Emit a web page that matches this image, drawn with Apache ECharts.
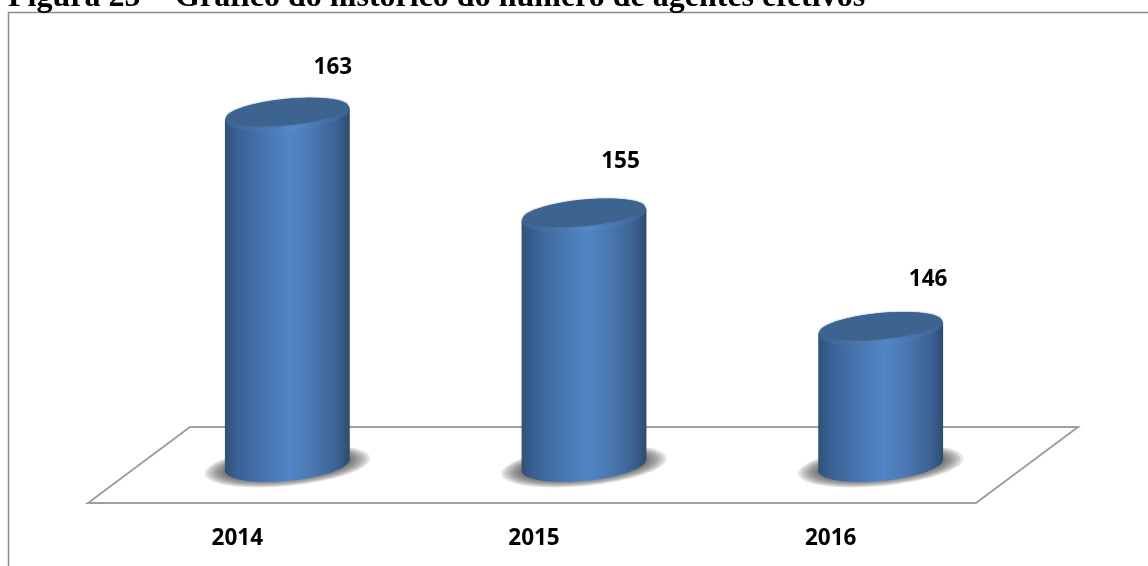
<!DOCTYPE html>
<html><head><meta charset="utf-8">
<style>html,body{margin:0;padding:0;background:#fff}#c{width:1148px;height:566px}</style>
<script src="https://cdn.jsdelivr.net/npm/echarts@6/dist/echarts.min.js"></script>
</head><body><div id="c"></div>
<script>
const categories = ['2014', '2015', '2016'];
const values = [163, 155, 146];
const titleText = 'Figura 25 –\u200A Gráfico do histórico do número de agentes efetivos';
const labelNudge = [[45.5, -47], [36.5, -53.5], [47.5, -49.5]];

const AXIS_MIN = 135.2, AXIS_MAX = 172.1;
const chart = echarts.init(document.getElementById('c'));
const A = 62.7, B = 16, TILT = 5.5 * Math.PI / 180;
const cosT = Math.cos(TILT), sinT = Math.sin(TILT);
function ell(cx, cy, a, b, t0, t1) {
  const pts = [], n = 64;
  for (let i = 0; i <= n; i++) {
    const t = t0 + (t1 - t0) * i / n;
    const x = a * Math.cos(t), y = b * Math.sin(t);
    pts.push([cx + x * cosT + y * sinT, cy - x * sinT + y * cosT]);
  }
  return pts;
}
const bodyFill = new echarts.graphic.LinearGradient(0, 0, 1, 0, [
  {offset: 0, color: '#2f5178'}, {offset: 0.1, color: '#3a6194'}, {offset: 0.3, color: '#4674ad'},
  {offset: 0.52, color: '#5285c8'}, {offset: 0.72, color: '#4976ae'}, {offset: 0.9, color: '#3b6292'},
  {offset: 1, color: '#2d4b70'}]);
const rimFill = new echarts.graphic.LinearGradient(0, 0, 1, 0, [
  {offset: 0, color: '#3a6090'}, {offset: 0.55, color: '#5588c8'}, {offset: 1, color: '#3a6090'}]);

function renderBar(params, api) {
  const i = api.value(0), v = api.value(1);
  const top = api.coord([i, v]);
  const base = api.coord([i, AXIS_MIN]);
  const cx = top[0], ty = top[1], by = base[1];
  const tR = Math.atan2(B * sinT, A * cosT);
  const tipR = ell(cx, ty, A, B, tR, tR)[0];
  const tipL = ell(cx, ty, A, B, tR + Math.PI, tR + Math.PI)[0];
  const body = [tipL, tipR].concat(ell(cx, by, A, B, tR, tR + Math.PI));
  const nudge = labelNudge[params.dataIndex];
  const shadow = [];
  for (let k = 0; k < 9; k++) {
    shadow.push({type: 'polygon', shape: {points: ell(cx, by + 1, 83 - k * 3, 20 - k, 0, Math.PI * 2)},
      style: {fill: 'rgba(70,70,70,0.15)'}});
  }
  return {type: 'group', children: shadow.concat([
    {type: 'polygon', shape: {points: body}, style: {fill: bodyFill}},
    {type: 'polygon', shape: {points: ell(cx, ty, A, B, 0, Math.PI * 2)}, style: {fill: rimFill}},
    {type: 'polygon', shape: {points: ell(cx, ty - 2.6, A - 1.5, B - 3, 0, Math.PI * 2)},
      style: {fill: '#3d648f', shadowBlur: 2, shadowColor: '#3d648f'}},
    {type: 'text', style: {text: String(v), x: cx + nudge[0], y: ty + nudge[1], align: 'center', verticalAlign: 'middle',
      fontFamily: '"Open Sans"', fontWeight: 'bold', fontSize: 22.5, fill: '#000'}}
  ])};
}
function renderFloor(params, api) {
  if (params.dataIndex !== 0) return;
  const c = params.coordSys;
  const yb = c.y + c.height, x0 = c.x;
  return {type: 'polygon', silent: true, shape: {points: [
      [x0 - 51, yb + 38], [x0 + 51, yb - 38], [x0 + 939, yb - 38], [x0 + 837, yb + 38]]},
    style: {fill: '#fff', stroke: '#a0a0a0', lineWidth: 2}};
}

chart.setOption({
  animation: false,
  backgroundColor: '#fff',
  title: {text: titleText, left: 8, top: -18, padding: 0,
    textStyle: {fontFamily: '"Liberation Serif"', fontWeight: 'bold', fontSize: 32, color: '#000'}},
  grid: {left: 139, top: 0, width: 890, height: 465},
  xAxis: {type: 'category', data: categories, axisTick: {show: false}, axisLine: {show: false},
    axisLabel: {margin: 62, padding: [0, 100, 0, 0], fontFamily: '"Open Sans"', fontWeight: 'bold', fontSize: 22.5, color: '#000'}},
  yAxis: {type: 'value', min: AXIS_MIN, max: AXIS_MAX, show: false},
  graphic: [{type: 'polyline', z: -1, shape: {points: [[8.5, 566], [8.5, 12.5], [1148, 12.5]]},
    style: {fill: 'none', stroke: '#8c8c8c', lineWidth: 1.5}}],
  series: [
    {type: 'custom', z: 1, renderItem: renderFloor, data: values.map((v, i) => [i, v]), silent: true},
    {type: 'custom', z: 2, renderItem: renderBar, encode: {x: 0, y: 1}, data: values.map((v, i) => [i, v])}
  ]
});
</script></body></html>
